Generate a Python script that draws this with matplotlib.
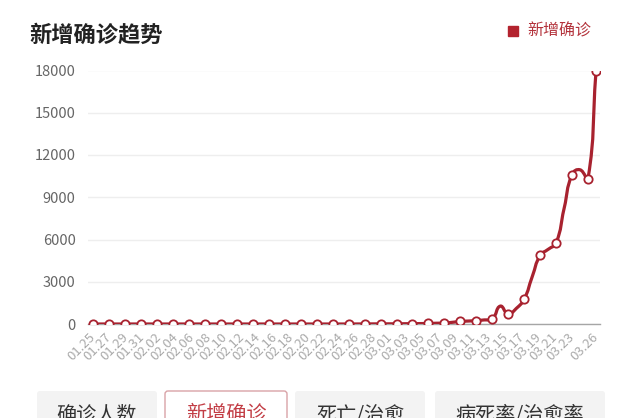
from __future__ import annotations

import matplotlib

matplotlib.use("Agg")

import matplotlib.pyplot as plt
import numpy as np
from matplotlib.patches import FancyBboxPatch, PathPatch
from matplotlib.path import Path

plt.rcParams["font.family"] = ["Noto Sans CJK SC", "DejaVu Sans"]

TITLE = "新增确诊趋势"
SERIES_NAME = "新增确诊"

# daily new confirmed cases
daily_new = [
    1, 0, 2, 0, 1, 1, 0, 1, 0, 0, 1, 0, 0, 1, 0, 0, 0, 0, 1, 0,
    0, 0, 0, 0, 0, 0, 0, 0, 0, 0, 0, 0, 0, 3, 5, 8,
    10, 12, 14, 20, 25, 30, 40, 55,
    70, 120, 180, 210, 240, 290, 350, 1270, 710, 1100,
    1770, 3350, 4870, 5300, 5760, 8200, 10610, 10950, 10330, 17950,
]
tick_labels = [
    "01.25", "01.27", "01.29", "01.31", "02.02", "02.04", "02.06", "02.08",
    "02.10", "02.12", "02.14", "02.16", "02.18", "02.20", "02.22", "02.24",
    "02.26", "02.28", "03.01", "03.03", "03.05", "03.07", "03.09", "03.11",
    "03.13", "03.15", "03.17", "03.19", "03.21", "03.23", "03.26",
]
y_ticks = [0, 3000, 6000, 9000, 12000, 15000, 18000]
tabs = ["确诊人数", "新增确诊", "死亡/治愈", "病死率/治愈率"]
active_tab = 1

LINE_RED = "#a8222f"
W, H = 640, 418


def smooth_path(ax, xs, ys, smooth=0.5):
    pts = ax.transData.transform(np.column_stack([xs, ys]))
    n = len(pts)
    cp_prev = np.zeros_like(pts)
    cp_next = np.zeros_like(pts)
    for i in range(n):
        p = pts[i]
        prev = pts[i - 1] if i > 0 else p
        nxt = pts[i + 1] if i < n - 1 else p
        v = nxt - prev
        d0 = np.hypot(*(p - prev))
        d1 = np.hypot(*(nxt - p))
        r = d1 / (d0 + d1) if d0 + d1 > 0 else 0.5
        cp_next[i] = p + v * smooth * r
        cp_prev[i] = p - v * smooth * (1 - r)
    verts = [pts[0]]
    codes = [Path.MOVETO]
    for i in range(n - 1):
        verts += [cp_next[i], cp_prev[i + 1], pts[i + 1]]
        codes += [Path.CURVE4] * 3
    return Path(ax.transData.inverted().transform(np.array(verts)), codes)


def main() -> None:
    fig = plt.figure(figsize=(W / 100, H / 100), dpi=100)
    ax = fig.add_axes([88 / W, 1 - 324 / H, 512 / W, (324 - 70.5) / H])

    n = len(daily_new)
    x = np.arange(n)
    ax.set_xlim(-0.66, n - 0.5)
    ax.set_ylim(0, 18000)

    path = smooth_path(ax, x, daily_new)
    ax.add_patch(PathPatch(path, fill=False, edgecolor=LINE_RED, lw=2.3,
                           capstyle="round", joinstyle="round", zorder=3))
    mark_idx = list(range(0, n, 2)) + [n - 1]
    ax.plot(x[mark_idx], np.array(daily_new)[mark_idx], ls="none", marker="o",
            ms=6, mfc="white", mec=LINE_RED, mew=1.3, zorder=4)

    ax.set_yticks(y_ticks)
    ax.set_yticklabels([str(v) for v in y_ticks])
    ax.tick_params(axis="y", length=0, pad=9, labelsize=10.5, labelcolor="#666666")
    ax.grid(axis="y", color="#eeeeee", lw=1)
    ax.set_axisbelow(True)

    # labels spread evenly up to the third-last point, last one pinned to the end
    tick_pos = list(np.linspace(0, n - 4, len(tick_labels) - 1)) + [n - 1]
    ax.set_xticks(tick_pos)
    ax.set_xticklabels(tick_labels, rotation=45, ha="right", va="center",
                       rotation_mode="anchor")
    ax.tick_params(axis="x", length=0, pad=8, labelsize=9.5, labelcolor="#aaaaaa")

    for side in ("top", "right", "left"):
        ax.spines[side].set_visible(False)
    ax.spines["bottom"].set_color("#a6a6a6")
    ax.spines["bottom"].set_linewidth(1)

    # header and tab bar in pixel coords
    ov = fig.add_axes([0, 0, 1, 1], zorder=-1)
    ov.set_xlim(0, W)
    ov.set_ylim(H, 0)
    ov.axis("off")
    ov.text(29, 35, TITLE, fontsize=16, fontweight="bold", color="#222222",
            ha="left", va="center")
    ov.add_patch(plt.Rectangle((508, 26), 10, 10, color="#b3232e"))
    ov.text(527, 31, SERIES_NAME, fontsize=11.5, color="#b3323b", ha="left", va="center")

    tab_x = [(37, 157), (165, 287), (295, 425), (435, 605)]
    for i, (name, (x0, x1)) in enumerate(zip(tabs, tab_x)):
        if i == active_tab:
            box = FancyBboxPatch((x0, 391), x1 - x0, 40, boxstyle="round,pad=0,rounding_size=3",
                                 fc="white", ec="#d9a3a7", lw=1)
            color = "#c23d45"
        else:
            box = FancyBboxPatch((x0, 391), x1 - x0, 40, boxstyle="round,pad=0,rounding_size=3",
                                 fc="#f3f3f3", ec="none")
            color = "#333333"
        ov.add_patch(box)
        ov.text((x0 + x1) / 2, 415, name, fontsize=14.5, color=color, ha="center", va="center")

    fig.savefig("out.png", dpi=100)
    plt.close(fig)


if __name__ == "__main__":
    main()
